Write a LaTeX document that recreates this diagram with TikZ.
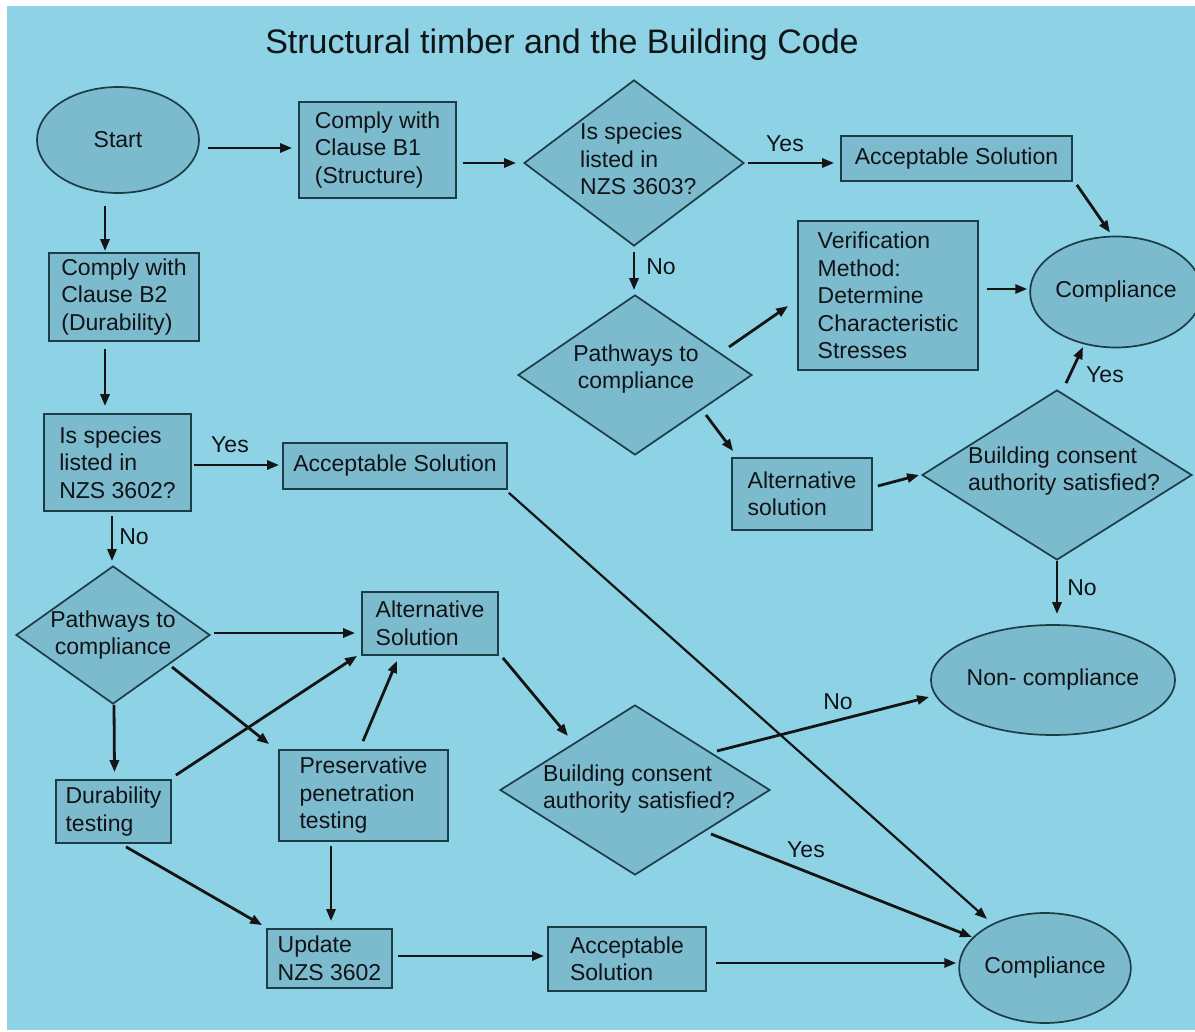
\documentclass[tikz,border=0pt]{standalone}
\usepackage{fontspec}
\setmainfont{Liberation Sans}
\usetikzlibrary{shapes.geometric,arrows.meta,calc}
\definecolor{bg}{RGB}{141,211,229}
\definecolor{shp}{RGB}{124,186,205}
\definecolor{edgec}{RGB}{28,60,70}
\definecolor{ink}{RGB}{17,20,22}
\begin{document}
\begin{tikzpicture}[x=1pt,y=-1pt,
  every node/.style={font=\fontsize{23}{27.5}\selectfont, text=ink},
  box/.style={draw=edgec, fill=shp, line width=1.7pt, rectangle, inner sep=0pt, align=left},
  ell/.style={draw=edgec, fill=shp, line width=1.7pt, ellipse, inner sep=0pt},
  dia/.style={draw=edgec, fill=shp, line width=1.7pt, diamond, inner sep=0pt},
  txt/.style={inner sep=0pt, align=left},
  lbl/.style={inner sep=0pt},
  arr/.style={line width=2.8pt, draw=black!92, -{Triangle[length=12pt,width=9pt]}}]
\useasboundingbox (0,0) rectangle (1195,1032);
\fill[white] (0,0) rectangle (1195,1032);
\fill[bg] (7,6) rectangle (1195,1030);

% title
\node[font=\fontsize{34}{40}\selectfont, anchor=base, inner sep=0pt] (title) at (562,54) {Structural timber and the Building Code};

% ellipses
\node[ell, minimum width=162, minimum height=106] (start) at (118,140) {Start};
\node[ell, minimum width=147, minimum height=111] (comp1) at (1116,292) {Compliance};
\node[ell, minimum width=218, minimum height=110] (noncomp) at (1053,680) {Non- compliance};
\node[ell, minimum width=146, minimum height=110] (comp2) at (1045,968) {Compliance};

% boxes
\node[box, minimum width=157, minimum height=96] (b1) at (377.5,150) {Comply with\\Clause B1\\(Structure)};
\node[box, minimum width=150, minimum height=88] (b2) at (124,297) {Comply with\\Clause B2\\(Durability)};
\node[box, minimum width=147, minimum height=97] (q2) at (117.5,462.5) {Is species\\listed in\\NZS 3602?};
\node[box, minimum width=231, minimum height=45] (as1) at (956.5,158.5) {Acceptable Solution};
\node[box, minimum width=224, minimum height=46] (as2) at (395,466) {Acceptable Solution};
\node[box, minimum width=180, minimum height=149] (verif) at (888,295.5) {Verification\\Method:\\Determine\\Characteristic\\Stresses};
\node[box, minimum width=140, minimum height=72] (alts2) at (802,494) {Alternative\\solution};
\node[box, minimum width=136, minimum height=63] (alts1) at (430,623.5) {Alternative\\Solution};
\node[box, minimum width=115, minimum height=63] (dur) at (113.5,811.5) {Durability\\testing};
\node[box, minimum width=169, minimum height=91] (pres) at (363.5,795.5) {Preservative\\penetration\\testing};
\node[box, minimum width=125, minimum height=59] (upd) at (329.5,958.5) {Update\\NZS 3602};
\node[box, minimum width=158, minimum height=64] (as3) at (627,959) {Acceptable\\Solution};

% diamonds
\node[dia, minimum width=220, minimum height=166] (d1) at (634,163) {};
\node[txt, anchor=west] (d1t) at (580,159) {Is species\\listed in\\NZS 3603?};
\node[dia, minimum width=234, minimum height=160] (p2) at (635,375) {};
\node[txt, align=center] (p2t) at (636,369) {Pathways to\\compliance};
\node[dia, minimum width=194, minimum height=138] (p1) at (113,635) {};
\node[txt, align=center] (p1t) at (113,635) {Pathways to\\compliance};
\node[dia, minimum width=270, minimum height=170] (bca2) at (1057,475) {};
\node[txt, anchor=west] (bca2t) at (968,471) {Building consent\\authority satisfied?};
\node[dia, minimum width=270, minimum height=170] (bca1) at (635,790) {};
\node[txt, anchor=west] (bca1t) at (543,789) {Building consent\\authority satisfied?};

% connectors
\draw[arr] ($(start.east)+(8,8)$) -- ($(b1.west)+(-6,-2)$);
\draw[arr] ($(start.south)+(-13,12)$) -- ($(b2.north)+(-19,-1)$);
\draw[arr] ($(b1.east)+(6,13)$) -- ($(d1.west)+(-7,0)$);
\draw[arr] ($(d1.east)+(3,0)$) -- ($(as1.west)+(-6,4.5)$);
\draw[arr] ($(d1.south)+(0,5)$) -- ($(p2.north)+(-1,-4)$);
\draw[arr] ($(p2.center)+(94,-28)$) -- ($(verif.west)+(-9,10.5)$);
\draw[arr] ($(verif.east)+(8,-6.5)$) -- ($(comp1.west)+(-2,-3)$);
\draw[arr] ($(as1.south east)+(4,3)$) -- ($(comp1.north)+(-6,-3)$);
\draw[arr] ($(p2.center)+(71,40)$) -- ($(alts2.north west)+(2,-6)$);
\draw[arr] ($(alts2.east)+(5,-8)$) -- ($(bca2.west)+(-2,0)$);
\draw[arr] ($(bca2.north)+(9,-6)$) -- ($(comp1.center)+(-33,55)$);
\draw[arr] (bca2.south) -- ($(noncomp.north)+(4,-10)$);
\draw[arr] ($(b2.south)+(-19,7)$) -- ($(q2.north)+(-12.5,-7)$);
\draw[arr] ($(q2.east)+(2,2.5)$) -- ($(as2.west)+(-3,-1)$);
\draw[arr] ($(q2.south)+(-5.5,4)$) -- ($(p1.north)+(-1,-4)$);
\draw[arr] ($(p1.east)+(3,-2)$) -- ($(alts1.west)+(-6,9.5)$);
\draw[arr] ($(p1.south)+(1,0)$) -- ($(dur.north)+(1,-7)$);
\draw[arr] ($(p1.center)+(59,32)$) -- ($(pres.north west)+(-9,-5)$);
\draw[arr] ($(dur.north east)+(4,-4)$) -- ($(alts1.south west)+(-4,0)$);
\draw[arr] ($(pres.north)+(-0.5,-8)$) -- ($(alts1.south)+(-33,5)$);
\draw[arr] ($(alts1.south east)+(4,2)$) -- ($(bca1.center)+(-67,-54)$);
\draw[arr, line width=2.2pt] ($(as2.south east)+(1,3)$) -- ($(comp2.center)+(-58,-49)$);
\draw[arr] ($(bca1.center)+(82,-39)$) -- ($(noncomp.west)+(-1,17)$);
\draw[arr] ($(bca1.center)+(76,44)$) -- ($(comp2.center)+(-73,-31)$);
\draw[arr] ($(dur.south)+(12.5,3)$) -- ($(upd.north west)+(-4,-3)$);
\draw[arr] ($(pres.south)+(-32.5,4)$) -- ($(upd.north)+(1.5,-7)$);
\draw[arr] ($(upd.east)+(5,-2.5)$) -- ($(as3.west)+(-3,-3)$);
\draw[arr] ($(as3.east)+(9,4)$) -- ($(comp2.west)+(-2,-5)$);

% labels
\node[lbl] (yes1) at (785,144) {Yes};
\node[lbl] (no1) at (661,267) {No};
\node[lbl] (yes2) at (1105,375) {Yes};
\node[lbl] (no2) at (1082,588) {No};
\node[lbl] (yes3) at (230,445) {Yes};
\node[lbl] (no3) at (134,537) {No};
\node[lbl] (no4) at (838,702) {No};
\node[lbl] (yes4) at (806,850) {Yes};
\end{tikzpicture}
\end{document}
